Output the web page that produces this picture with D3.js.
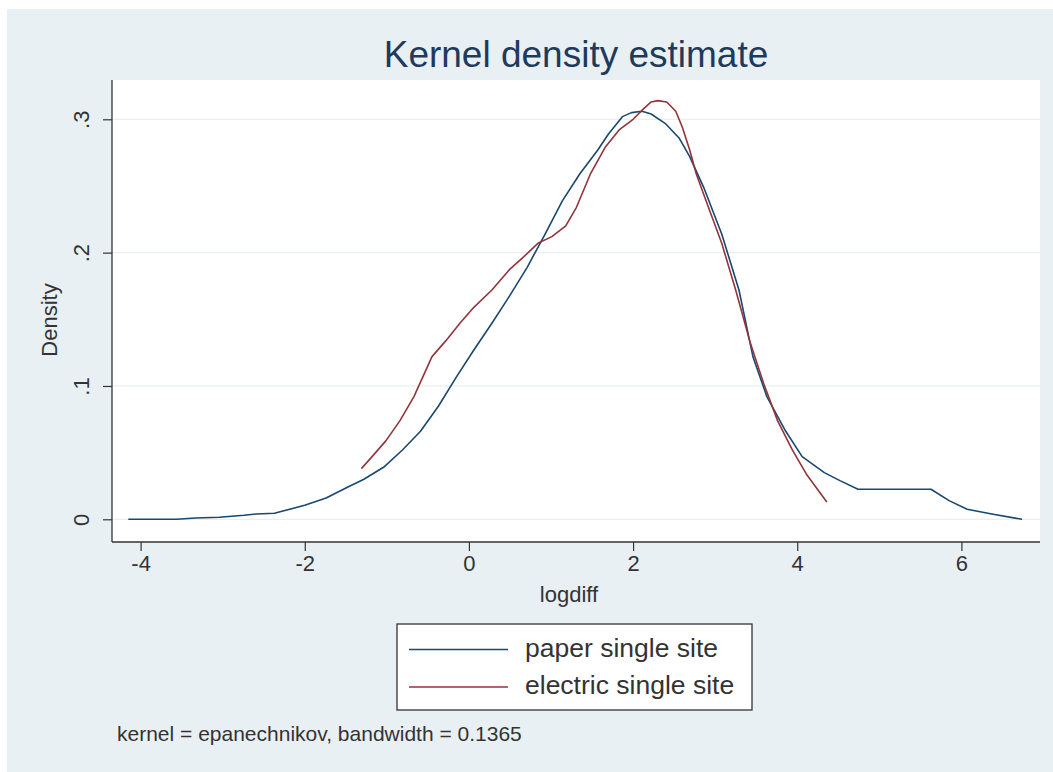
<!DOCTYPE html>
<html>
<head>
<meta charset="utf-8">
<script src="https://cdn.jsdelivr.net/npm/d3@7"></script>
<style>
  html, body { margin: 0; padding: 0; background: #ffffff; }
  svg { display: block; font-family: "Liberation Sans", Arial, sans-serif; }
</style>
</head>
<body>
<svg id="chart" width="1053" height="772"></svg>
<script>
// ---- data ----
const titleText = "Kernel density estimate";
const xTitle = "logdiff";
const yTitle = "Density";
const note = "kernel = epanechnikov, bandwidth = 0.1365";
const seriesNames = ["paper single site", "electric single site"];
const xTicks = [-4, -2, 0, 2, 4, 6];
const yTicks = [0, 0.1, 0.2, 0.3];
const yTickLabels = ["0", ".1", ".2", ".3"];

const paperX = [-4.15, -3.56, -3.33, -3.04, -2.74, -2.59, -2.37, -2.0, -1.74, -1.48, -1.28, -1.04, -0.81, -0.59, -0.37, -0.15, 0.06, 0.28, 0.49, 0.71, 0.92, 1.14, 1.35, 1.57, 1.70, 1.87, 1.98, 2.11, 2.22, 2.39, 2.56, 2.69, 2.86, 3.08, 3.29, 3.46, 3.63, 3.85, 4.06, 4.33, 4.52, 4.74, 5.63, 5.85, 6.07, 6.37, 6.74];
const paperY = [0, 0, 0.001, 0.0015, 0.003, 0.004, 0.0045, 0.0105, 0.016, 0.024, 0.030, 0.039, 0.052, 0.066, 0.085, 0.107, 0.127, 0.147, 0.167, 0.189, 0.213, 0.239, 0.259, 0.277, 0.289, 0.302, 0.305, 0.306, 0.304, 0.297, 0.286, 0.272, 0.249, 0.214, 0.172, 0.122, 0.092, 0.067, 0.047, 0.035, 0.029, 0.0225, 0.0225, 0.014, 0.0075, 0.004, 0];

const electricX = [-1.31, -1.18, -1.01, -0.84, -0.67, -0.56, -0.45, -0.28, -0.11, 0.06, 0.28, 0.49, 0.67, 0.84, 1.01, 1.18, 1.31, 1.48, 1.66, 1.83, 2.0, 2.13, 2.22, 2.30, 2.41, 2.52, 2.60, 2.69, 2.77, 2.90, 3.08, 3.25, 3.42, 3.59, 3.76, 3.94, 4.11, 4.36];
const electricY = [0.038, 0.047, 0.059, 0.074, 0.092, 0.107, 0.122, 0.134, 0.147, 0.159, 0.172, 0.187, 0.197, 0.207, 0.212, 0.220, 0.234, 0.259, 0.279, 0.292, 0.300, 0.308, 0.313, 0.314, 0.313, 0.306, 0.294, 0.277, 0.259, 0.237, 0.207, 0.172, 0.134, 0.102, 0.074, 0.052, 0.034, 0.013];

// ---- layout / style ----
const colors = ["#1a476f", "#90353b"];
const svg = d3.select("#chart");
const W = 1053, H = 772;
const plot = { left: 112, top: 80, right: 1040, bottom: 542 };

const x = d3.scaleLinear().domain([-4, 6]).range([140.6, 961.4]);
const y = d3.scaleLinear().domain([0, 0.3]).range([519.3, 119.3]);

// outer background
svg.append("rect").attr("x", 7).attr("y", 9).attr("width", W - 7).attr("height", H - 9).attr("fill", "#e9f0f3");
// plot region
svg.append("rect").attr("x", plot.left).attr("y", plot.top)
  .attr("width", plot.right - plot.left).attr("height", plot.bottom - plot.top).attr("fill", "#ffffff");

// grid lines
svg.append("g").selectAll("line").data(yTicks).join("line")
  .attr("x1", plot.left).attr("x2", plot.right)
  .attr("y1", d => y(d)).attr("y2", d => y(d))
  .attr("stroke", "#eaeeef").attr("stroke-width", 1.3);

// title
svg.append("text").attr("x", 576).attr("y", 67).attr("text-anchor", "middle")
  .attr("font-size", 37).attr("fill", "#1e3a5c").text(titleText);

// y axis
const yAxis = d3.axisLeft(y).tickValues(yTicks).tickFormat((d, i) => yTickLabels[i]).tickSize(9).tickPadding(0);
const gy = svg.append("g").attr("transform", `translate(${plot.left},0)`).call(yAxis);
gy.select(".domain").attr("d", `M0,${plot.top}V${plot.bottom}`).attr("stroke", "#333").attr("stroke-width", 1.3);
gy.selectAll(".tick line").attr("stroke", "#333").attr("stroke-width", 1.2);
gy.selectAll(".tick text")
  .attr("font-size", 22).attr("fill", "#333").attr("font-family", "Liberation Sans, Arial, sans-serif")
  .attr("text-anchor", "middle").attr("x", null).attr("dy", null)
  .attr("transform", "translate(-23,0) rotate(-90)");

// x axis
const xAxis = d3.axisBottom(x).tickValues(xTicks).tickFormat(d3.format("d")).tickSize(9).tickPadding(4);
const gx = svg.append("g").attr("transform", `translate(0,${plot.bottom})`).call(xAxis);
gx.select(".domain").attr("d", `M${plot.left},0H${plot.right}`).attr("stroke", "#333").attr("stroke-width", 1.3);
gx.selectAll(".tick line").attr("stroke", "#333").attr("stroke-width", 1.2);
gx.selectAll(".tick text").attr("font-size", 22).attr("fill", "#333").attr("font-family", "Liberation Sans, Arial, sans-serif")
  .text(d => d < 0 ? "-" + Math.abs(d) : String(d));

// axis titles
svg.append("text").attr("x", 569).attr("y", 602).attr("text-anchor", "middle")
  .attr("font-size", 22).attr("fill", "#333").text(xTitle);
svg.append("text").attr("transform", "translate(57,320) rotate(-90)").attr("text-anchor", "middle")
  .attr("font-size", 22).attr("fill", "#333").text(yTitle);

// lines
const line = d3.line().x(d => x(d[0])).y(d => y(d[1])).curve(d3.curveLinear);
const series = [d3.zip(paperX, paperY), d3.zip(electricX, electricY)];
svg.append("g").selectAll("path").data(series).join("path")
  .attr("d", line).attr("fill", "none")
  .attr("stroke", (d, i) => colors[i]).attr("stroke-width", 1.6)
  .attr("stroke-linejoin", "round");

// legend
const lg = svg.append("g");
lg.append("rect").attr("x", 397).attr("y", 624).attr("width", 355).attr("height", 86)
  .attr("fill", "#ffffff").attr("stroke", "#333").attr("stroke-width", 1.3);
seriesNames.forEach((name, i) => {
  const ly = 649.5 + i * 37.5;
  lg.append("line").attr("x1", 409).attr("x2", 508).attr("y1", ly).attr("y2", ly)
    .attr("stroke", colors[i]).attr("stroke-width", 1.6);
  lg.append("text").attr("x", 525).attr("y", 657 + i * 37).attr("font-size", 26.5).attr("fill", "#333").text(name);
});

// note
svg.append("text").attr("x", 117).attr("y", 741).attr("font-size", 21).attr("fill", "#333").text(note);
</script>
</body>
</html>
